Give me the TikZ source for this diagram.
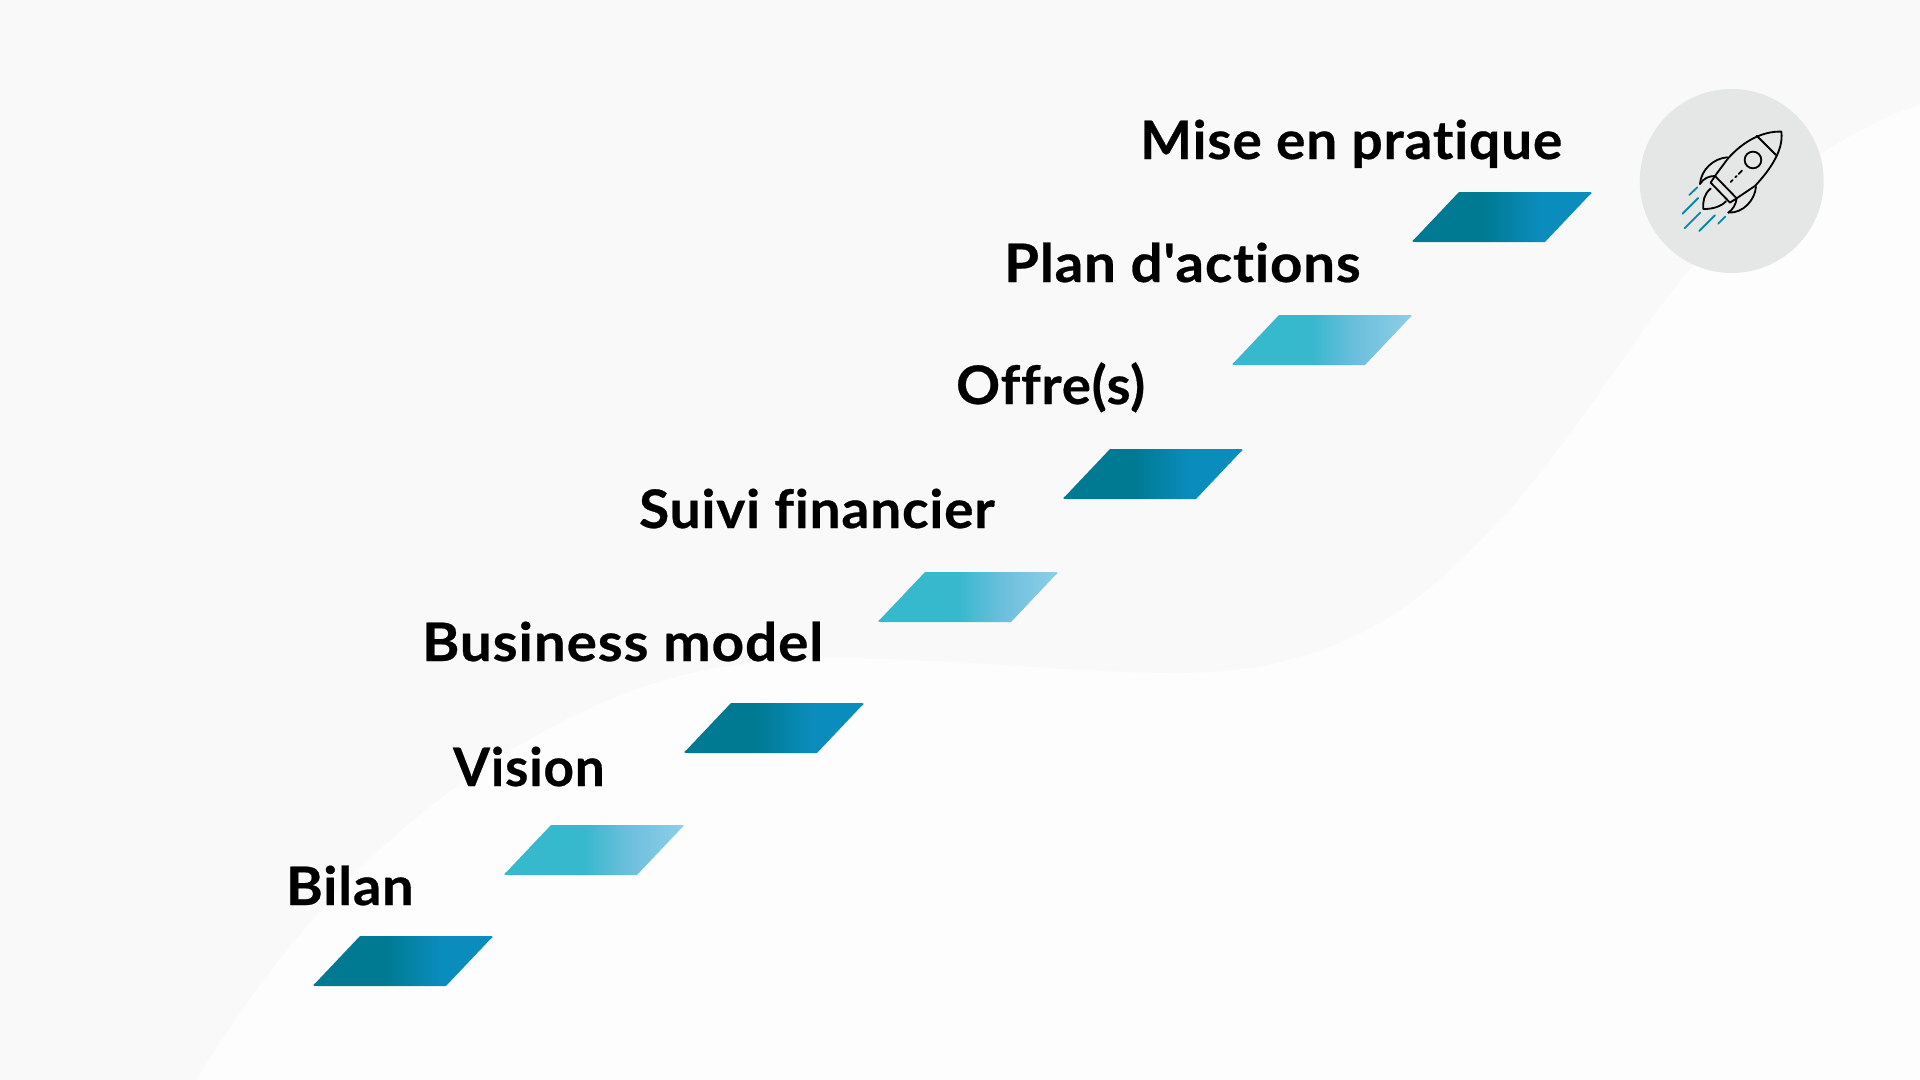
\documentclass[tikz,border=0pt]{standalone}
\usepackage{graphicx}
\usepackage{fontspec}
\newfontfamily\stepfont{Lato}[BoldFont=* Bold,BoldFeatures={FakeBold=0.5},LetterSpace=1.5,Ligatures={NoCommon,NoRequired,NoContextual}]
\definecolor{bgmain}{HTML}{FDFDFD}
\definecolor{bgband}{HTML}{F9F9F9}
\definecolor{disc}{HTML}{E5E7E6}
\definecolor{darkA}{HTML}{007A93}
\definecolor{darkB}{HTML}{0A8CBC}
\definecolor{lightA}{HTML}{36B8CD}
\definecolor{lightM}{HTML}{6BBFDC}
\definecolor{lightB}{HTML}{8FCEE8}
\definecolor{flame}{HTML}{0A87A8}
\pgfdeclarehorizontalshading{darkbar}{100bp}{color(0bp)=(darkA); color(45bp)=(darkA); color(60bp)=(darkB); color(100bp)=(darkB)}
\pgfdeclarehorizontalshading{lightbar}{100bp}{color(0bp)=(lightA); color(47bp)=(lightA); color(59bp)=(lightM); color(75bp)=(lightB); color(100bp)=(lightB)}
\tikzset{
  x=0.05cm,y=-0.05cm,
  steplabel/.style={anchor=base west,inner sep=0pt,font=\fontsize{75.5}{76}\stepfont\bfseries,text=black},
  rocketline/.style={draw=black,line width=2.6pt,line cap=round,line join=round},
  flameline/.style={draw=flame,line width=2.6pt,line cap=round},
}
% \stepbar{name}{top-left x}{top y}{shading}
\newcommand{\stepbar}[4]{%
  \begin{scope}
    \clip (#2,#3) -- (#2+129,#3) .. controls (#2+133,#3) and (#2+134,#3+1) .. (#2+130.5,#3+3)
      -- (#2+86,#3+50) -- (#2-43,#3+50) .. controls (#2-47,#3+50) and (#2-48,#3+49) .. (#2-44.5,#3+47) -- cycle;
    \shade[shading=#4] (#2-48,#3) rectangle (#2+134,#3+50);
  \end{scope}
  \coordinate (#1) at (#2+43,#3+25);
}
\begin{document}
\begin{tikzpicture}
\useasboundingbox (0,0) rectangle (1920,1080);
\fill[bgmain] (0,0) rectangle (1920,1080);
\fill[bgband] (0,0) -- (1920,0) -- (1920,104)
  .. controls (1830,135) and (1745,205) .. (1690,269)
  .. controls (1640,325) and (1560,465) .. (1470,551)
  .. controls (1400,620) and (1320,673) .. (1175,673)
  .. controls (1080,673) and (950,658) .. (833,658)
  .. controls (700,658) and (600,690) .. (480,770)
  .. controls (360,850) and (270,960) .. (196,1080)
  -- (0,1080) -- cycle;

\stepbar{s1}{360}{936}{darkbar}
\stepbar{s2}{551}{825}{lightbar}
\stepbar{s3}{731}{703}{darkbar}
\stepbar{s4}{925}{572}{lightbar}
\stepbar{s5}{1110}{449}{darkbar}
\stepbar{s6}{1279}{315}{lightbar}
\stepbar{s7}{1459}{192}{darkbar}

\node[steplabel] (t1) at (286,905) {\scalebox{1.052}[1]{Bilan}};
\node[steplabel] (t2) at (453,786) {\scalebox{1.0}[1]{Vision}};
\node[steplabel] (t3) at (422,661) {\scalebox{1.069}[1]{Business model}};
\node[steplabel] (t4) at (639,528) {\scalebox{1.036}[1]{Suivi financier}};
\node[steplabel] (t5) at (956,404) {\scalebox{1.027}[1]{Offre(s)}};
\node[steplabel] (t6) at (1004,282) {\scalebox{1.063}[1]{Plan d'actions}};
\node[steplabel] (t7) at (1140,159) {\scalebox{1.037}[1]{Mise en pratique}};

\fill[disc] (1731.7,181) circle (92);
\begin{scope}[shift={(1620,70)},x=0.01667cm,y=-0.01667cm]
  \draw[rocketline] (484,185) .. controls (430,183) and (370,212) .. (322,268) -- (285,318);
  \draw[rocketline] (484,185) .. controls (492,240) and (450,300) .. (405,348) -- (350,385);
  \draw[rocketline] (285,318) -- (272,338) -- (330,398) -- (350,385) -- cycle;
  \draw[rocketline] (410,197) -- (468,255);
  \draw[rocketline] (399,270) circle (25);
  \draw[rocketline] (332,336) -- (338,330) (346,322) -- (350,318) (356,312) -- (366,302);
  \draw[rocketline] (240,342) .. controls (243,300) and (280,265) .. (322,262);
  \draw[rocketline] (240,342) .. controls (250,325) and (268,318) .. (285,318);
  \draw[rocketline] (408,350) .. controls (405,390) and (370,430) .. (325,428);
  \draw[rocketline] (325,428) .. controls (340,418) and (348,402) .. (350,385);
  \draw[rocketline] (272,356) .. controls (252,372) and (248,395) .. (250,417) .. controls (280,418) and (305,408) .. (318,394);
  \draw[flameline] (208,375) -- (232,352);
  \draw[flameline] (188,431) -- (235,384);
  \draw[flameline] (194,475) -- (241,428);
  \draw[flameline] (238,483) -- (285,436);
  \draw[flameline] (295,461) -- (316,440);
\end{scope}
\end{tikzpicture}
\end{document}
